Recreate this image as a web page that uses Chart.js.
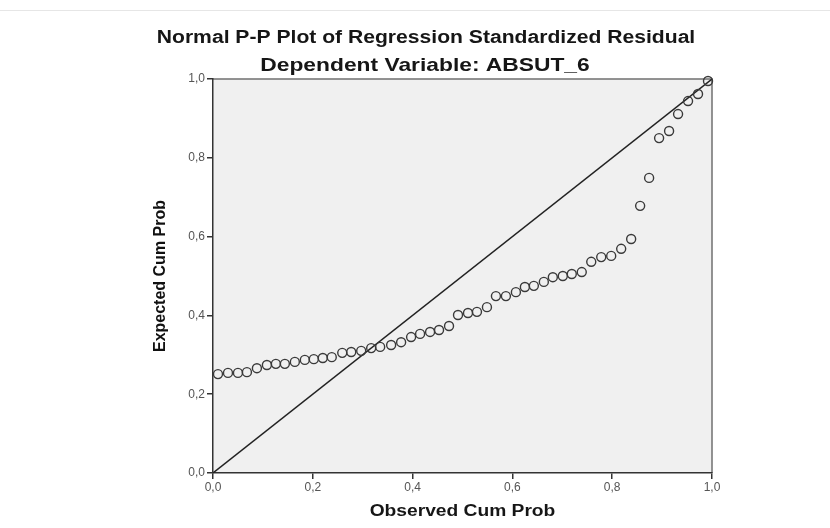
<!DOCTYPE html>
<html>
<head>
<meta charset="utf-8">
<script src="https://cdn.jsdelivr.net/npm/chart.js@4.4.1/dist/chart.umd.min.js"></script>
<style>
  html, body { margin: 0; padding: 0; background: #fff; }
  canvas { display: block; }
</style>
</head>
<body>
<canvas id="ppPlot" width="830" height="528"></canvas>
<script>
// observed vs expected cumulative probability of the standardized residuals
const observedCum = [
  0.010, 0.030, 0.050, 0.068, 0.088, 0.108, 0.126, 0.144, 0.164, 0.184,
  0.202, 0.220, 0.238, 0.259, 0.277, 0.297, 0.317, 0.335, 0.357, 0.377,
  0.397, 0.415, 0.435, 0.453, 0.473, 0.491, 0.511, 0.529, 0.549, 0.567,
  0.587, 0.607, 0.625, 0.643, 0.663, 0.681, 0.701, 0.719, 0.739, 0.758,
  0.778, 0.798, 0.818, 0.838, 0.856, 0.874, 0.894, 0.914, 0.932, 0.952,
  0.972, 0.992
];
const expectedCum = [
  0.251, 0.254, 0.254, 0.256, 0.266, 0.274, 0.277, 0.277, 0.282, 0.287,
  0.289, 0.292, 0.294, 0.305, 0.307, 0.310, 0.317, 0.320, 0.325, 0.332,
  0.345, 0.353, 0.358, 0.363, 0.373, 0.401, 0.406, 0.409, 0.421, 0.449,
  0.449, 0.459, 0.472, 0.475, 0.485, 0.497, 0.500, 0.505, 0.510, 0.536,
  0.548, 0.551, 0.569, 0.594, 0.678, 0.749, 0.850, 0.868, 0.911, 0.944,
  0.962, 0.995
];
// 45-degree reference line
const refLine = [0, 1];
const tickValues = [0, 0.2, 0.4, 0.6, 0.8, 1.0];

const chartTitle = 'Normal P-P Plot of Regression Standardized Residual';
const chartSubtitle = 'Dependent Variable: ABSUT_6';
const xTitle = 'Observed Cum Prob';
const yTitle = 'Expected Cum Prob';

const FONT = '"Liberation Sans", Arial, sans-serif';
const STRETCH = 1.2;

function wideText(ctx, text, cx, cy, font, sx) {
  ctx.save();
  ctx.font = font;
  ctx.fillStyle = '#161616';
  ctx.textAlign = 'center';
  ctx.textBaseline = 'middle';
  ctx.translate(cx, cy);
  ctx.scale(sx, 1);
  ctx.fillText(text, 0, 0);
  ctx.restore();
}

// grey plot panel, frame and the stretched headings
const panel = {
  id: 'panel',
  beforeDraw(chart) {
    const { ctx, chartArea: a } = chart;
    ctx.save();
    ctx.fillStyle = '#fff';
    ctx.fillRect(0, 0, chart.width, chart.height);
    ctx.strokeStyle = '#e6e6e6';
    ctx.lineWidth = 1;
    ctx.beginPath();
    ctx.moveTo(0, 10.5);
    ctx.lineTo(chart.width, 10.5);
    ctx.stroke();
    ctx.fillStyle = '#f0f0f0';
    ctx.fillRect(a.left, a.top, a.right - a.left, a.bottom - a.top);
    ctx.strokeStyle = '#707070';
    ctx.lineWidth = 1.5;
    ctx.beginPath();
    ctx.moveTo(a.left, a.top);
    ctx.lineTo(a.right, a.top);
    ctx.lineTo(a.right, a.bottom);
    ctx.stroke();
    ctx.restore();
  },
  afterDraw(chart) {
    const { ctx, chartArea: a } = chart;
    wideText(ctx, chartTitle, 426, 38, 'bold 17.6px ' + FONT, STRETCH);
    wideText(ctx, chartSubtitle, 425, 66, 'bold 19px ' + FONT, STRETCH);
    wideText(ctx, xTitle, (a.left + a.right) / 2, 512, 'bold 16px ' + FONT, STRETCH);
  }
};

const commaTick = v => Number(v).toFixed(1).replace('.', ',');

new Chart(document.getElementById('ppPlot'), {
  type: 'scatter',
  data: {
    datasets: [
      {
        type: 'line',
        data: refLine.map(v => ({ x: v, y: v })),
        borderColor: '#222',
        borderWidth: 1.4,
        pointRadius: 0,
        order: 2
      },
      {
        data: observedCum.map((x, i) => ({ x: x, y: expectedCum[i] })),
        pointStyle: 'circle',
        pointRadius: 4.5,
        borderWidth: 1.4,
        borderColor: '#3a3a3a',
        backgroundColor: 'rgba(0,0,0,0)',
        clip: false,
        order: 1
      }
    ]
  },
  options: {
    responsive: false,
    animation: false,
    devicePixelRatio: 1,
    layout: { padding: { left: 140, right: 118, top: 79, bottom: 0 } },
    plugins: {
      legend: { display: false },
      tooltip: { enabled: false }
    },
    scales: {
      x: {
        type: 'linear',
        min: 0,
        max: 1,
        afterBuildTicks: s => { s.ticks = tickValues.map(v => ({ value: v })); },
        afterFit: s => { s.height = 55; },
        ticks: {
          callback: commaTick,
          color: '#555',
          font: { family: FONT, size: 12 },
          padding: 1,
          maxRotation: 0
        },
        grid: { drawOnChartArea: false, drawTicks: true, tickLength: 6, color: '#333', lineWidth: 1.5 },
        border: { color: '#333', width: 1.5 }
      },
      y: {
        type: 'linear',
        min: 0,
        max: 1,
        afterBuildTicks: s => { s.ticks = tickValues.map(v => ({ value: v })); },
        afterFit: s => { s.width = 73; },
        ticks: {
          callback: commaTick,
          color: '#555',
          font: { family: FONT, size: 12 },
          padding: 2
        },
        grid: { drawOnChartArea: false, drawTicks: true, tickLength: 6, color: '#333', lineWidth: 1.5 },
        border: { color: '#333', width: 1.5 },
        title: {
          display: true,
          text: yTitle,
          color: '#111',
          font: { family: FONT, size: 16, weight: 'bold' },
          padding: { top: 11, bottom: 0 }
        }
      }
    }
  },
  plugins: [panel]
});
</script>
</body>
</html>
